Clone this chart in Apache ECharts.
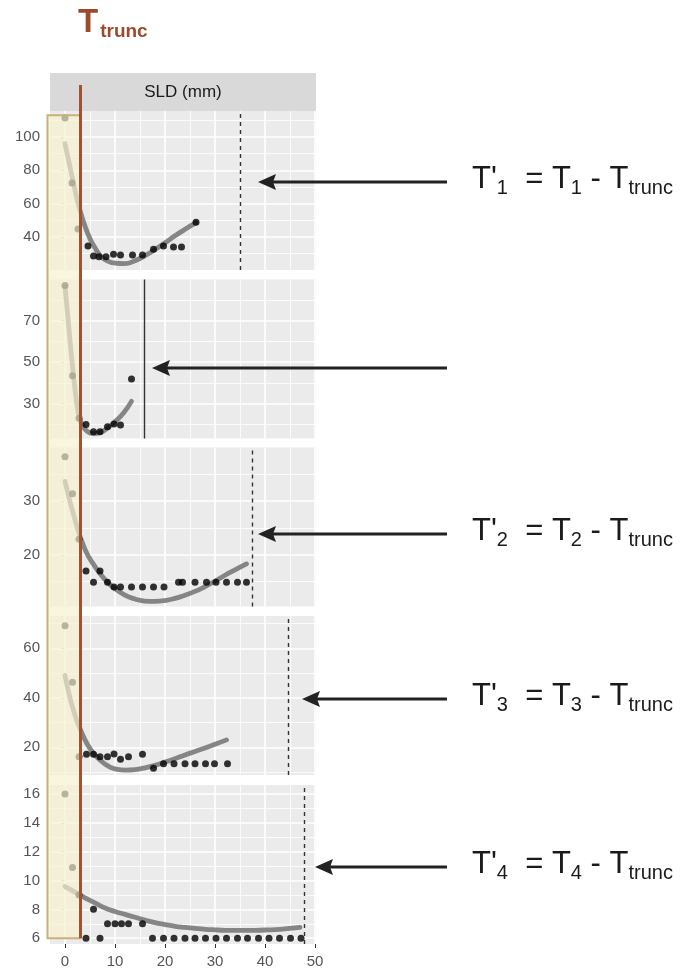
<!DOCTYPE html>
<html><head><meta charset="utf-8">
<script src="https://cdn.jsdelivr.net/npm/echarts@6/dist/echarts.min.js"></script>
<style>html,body{margin:0;padding:0;background:#fff}#c{width:681px;height:970px}</style>
</head><body><div id="c"></div>
<script>
// ---------- data ----------
const xTicks = [0, 10, 20, 30, 40, 50];
const xMinor = [5, 15, 25, 35, 45];
const xRange = [-3, 50.2];
const yRanges = [[20.2, 115.6], [13.2, 89.8], [10.4, 39.9], [8.8, 73.05], [5.6, 16.62]];
const yTicks = [[40, 60, 80, 100], [30, 50, 70], [20, 30], [20, 40, 60], [6, 8, 10, 12, 14, 16]];
const yMinor = [[30, 50, 70, 90, 110], [20, 40, 60, 80], [15, 25, 35], [10, 30, 50, 70], [7, 9, 11, 13, 15]];

const pts1X = [0, 1.4, 2.6, 4.6, 5.7, 6.8, 8.2, 9.7, 11.1, 13.5, 15.5, 17.7, 19.7, 21.7, 23.3, 26.2];
const pts1Y = [111.4, 72.4, 44.8, 34.6, 28.6, 28.2, 28.2, 29.6, 29.2, 29.2, 29.2, 32.6, 34.6, 34, 34, 48.8];
const fit1X = [0, 1, 2, 3, 4, 5, 6, 7, 8, 10, 12, 14, 16, 18, 20, 22, 24, 26.2];
const fit1Y = [96, 82, 68, 56, 46.5, 39, 33.5, 29, 26.5, 24.3, 24, 25.8, 28.8, 32.5, 36.5, 40.7, 44.6, 48.6];

const pts2X = [0, 1.5, 2.8, 4.2, 5.7, 7, 8.5, 9.8, 11.1, 13.3];
const pts2Y = [86.9, 43.4, 23, 19.9, 16.4, 16.4, 18.9, 20.2, 19.7, 41.9];
const fit2X = [0, 0.75, 1.5, 2.2, 2.8, 3.5, 4.5, 5.7, 7, 8.5, 10, 11.7, 13.3];
const fit2Y = [86.4, 67, 48, 33, 24, 19.5, 16.6, 15.6, 16.1, 18.2, 21.3, 25.5, 31.1];

const pts3X = [0, 1.5, 2.8, 4.2, 5.7, 7, 8.5, 9.8, 11.1, 13.3, 15.5, 17.7, 19.8, 22.7, 23.5, 26, 28.3, 30.2, 32.3, 34.5, 36.3];
const pts3Y = [38.2, 31.3, 22.9, 17, 14.9, 17, 14.9, 14, 14, 14, 14, 14, 14, 14.9, 14.9, 14.9, 14.9, 14.9, 14.9, 14.9, 14.9];
const fit3X = [0, 2, 4, 6, 8, 10, 12, 14, 16, 18, 20, 22, 24, 26, 28, 30, 32, 34, 36.3];
const fit3Y = [33.6, 26.5, 21, 17.8, 15.4, 13.7, 12.5, 11.8, 11.4, 11.35, 11.5, 11.9, 12.5, 13.2, 14.1, 15.1, 16.2, 17.2, 18.3];

const pts4X = [0, 1.5, 2.8, 4.3, 5.7, 7, 8.5, 9.8, 11.1, 12.7, 15.5, 17.7, 19.7, 21.8, 24, 26, 28.1, 29.9, 32.5];
const pts4Y = [69.1, 46.3, 16.2, 17.2, 17.2, 16.2, 16.2, 17.3, 15.2, 16.2, 17.2, 11.5, 13.3, 13.3, 13.3, 13.3, 13.3, 13.3, 13.3];
const fit4X = [0, 1, 2, 2.8, 4, 5, 6, 7, 8, 9, 10, 12, 14, 16, 18, 20, 22, 24, 26, 28, 30, 32.3];
const fit4Y = [49, 40, 33, 28.5, 23, 19.5, 16.8, 14.9, 13.2, 12, 11.3, 10.8, 11, 11.7, 12.7, 14, 15.4, 16.9, 18.3, 19.7, 21.2, 23];

const pts5X = [0, 1.5, 2.8, 4.2, 5.7, 7, 8.5, 10, 11.3, 12.7, 15.5, 17.5, 19.7, 21.8, 24, 26, 28.1, 30.2, 32.3, 34.5, 36.5, 38.7, 40.8, 42.9, 45.1, 47.2];
const pts5Y = [16, 10.9, 9, 6, 8, 6, 7, 7, 7, 7, 7, 6, 6, 6, 6, 6, 6, 6, 6, 6, 6, 6, 6, 6, 6, 6];
const fit5X = [0, 2, 4, 6, 8, 10, 12, 14, 16, 18, 20, 22, 24, 26, 28, 30, 32, 34, 36, 38, 40, 42, 44, 47];
const fit5Y = [9.58, 9.2, 8.8, 8.45, 8.1, 7.85, 7.65, 7.45, 7.25, 7.08, 6.95, 6.83, 6.75, 6.68, 6.62, 6.58, 6.55, 6.54, 6.54, 6.55, 6.57, 6.6, 6.65, 6.75];

const refLineX = [35.1, 15.9, 37.5, 44.7, 47.8];
const refLineType = ['dashed', 'solid', 'dashed', 'dashed', 'dashed'];

const truncX = 3.1;       // T_trunc position (mm)
const truncBoxLeft = -3.5;
const truncBoxTop = 113;  // panel 1 value
const truncBoxBottom = 6; // panel 5 value

const stripText = 'SLD (mm)';
const titleMain = 'T', titleSub = 'trunc';
const eqSubs = ['1', null, '2', '3', '4'];

const ptsX = [pts1X, pts2X, pts3X, pts4X, pts5X];
const ptsY = [pts1Y, pts2Y, pts3Y, pts4Y, pts5Y];
const fitX = [fit1X, fit2X, fit3X, fit4X, fit5X];
const fitY = [fit1Y, fit2Y, fit3Y, fit4Y, fit5Y];

// ---------- layout ----------
const L = 50, W = 266, H = 159;
const tops = [111, 279.5, 447.5, 616, 785];
const arrowY = [182, 368, 534, 699, 867];
const arrowTip = [258, 152, 258, 302, 315];
const arrowTail = 447;
const FONT = '"Liberation Sans", Arial, sans-serif';
const zip = (a, b) => a.map((v, i) => [v, b[i]]);

const grids = [], xAxes = [], yAxes = [], series = [];
for (let i = 0; i < 5; i++) {
  const last = i === 4;
  grids.push({ left: L, width: W, top: tops[i], height: H, show: true, backgroundColor: '#ebebeb', borderWidth: 0 });
  xAxes.push({
    type: 'value', gridIndex: i, min: xRange[0], max: xRange[1],
    axisLine: { show: false }, splitLine: { show: false },
    axisTick: { show: last, customValues: xTicks, length: 4, lineStyle: { color: '#333', width: 1 } },
    axisLabel: { show: last, customValues: xTicks, margin: 10, fontSize: 15, color: '#555', fontFamily: FONT }
  });
  yAxes.push({
    type: 'value', gridIndex: i, min: yRanges[i][0], max: yRanges[i][1],
    axisLine: { show: false }, splitLine: { show: false },
    axisTick: { show: true, customValues: yTicks[i], length: 4, lineStyle: { color: '#333', width: 1 } },
    axisLabel: { customValues: yTicks[i], margin: 10, fontSize: 15, color: '#555', fontFamily: FONT }
  });
  const gl = [];
  xMinor.forEach(v => gl.push({ xAxis: v, lineStyle: { color: '#fff', width: 0.8, type: 'solid' } }));
  yMinor[i].forEach(v => gl.push({ yAxis: v, lineStyle: { color: '#fff', width: 0.8, type: 'solid' } }));
  xTicks.forEach(v => gl.push({ xAxis: v, lineStyle: { color: '#fff', width: 1.6, type: 'solid' } }));
  yTicks[i].forEach(v => gl.push({ yAxis: v, lineStyle: { color: '#fff', width: 1.6, type: 'solid' } }));
  series.push({
    type: 'line', xAxisIndex: i, yAxisIndex: i, data: [], z: 1, silent: true,
    markLine: { silent: true, z: 1, symbol: ['none', 'none'], label: { show: false }, animation: false, data: gl }
  });
  series.push({
    type: 'line', xAxisIndex: i, yAxisIndex: i, data: zip(fitX[i], fitY[i]), z: 2,
    smooth: true, showSymbol: false, silent: true,
    lineStyle: { color: '#7a7a7a', width: 4.8, opacity: 0.9, cap: 'round' }
  });
  series.push({
    type: 'scatter', xAxisIndex: i, yAxisIndex: i, data: zip(ptsX[i], ptsY[i]), z: 3,
    symbolSize: 7, itemStyle: { color: '#000' }, silent: true,
    markLine: {
      silent: true, z: 4, symbol: ['none', 'none'], label: { show: false }, animation: false,
      data: [{ xAxis: refLineX[i], lineStyle: { color: '#333', width: 1.4, type: refLineType[i] === 'dashed' ? [4, 4] : 'solid' } }]
    }
  });
}

const chart = echarts.init(document.getElementById('c'), null, { renderer: 'canvas' });
chart.setOption({ animation: false, grid: grids, xAxis: xAxes, yAxis: yAxes, series: series });

// ---------- annotations ----------
const ctx = document.createElement('canvas').getContext('2d');
function tw(t, size, weight) { ctx.font = (weight || 'normal') + ' ' + size + 'px ' + FONT; return ctx.measureText(t).width; }
function pieces(x0, base, list, fill, weight, z) {
  const out = []; let x = x0;
  list.forEach(p => {
    x += (p.dx || 0);
    out.push({ type: 'text', x: x, y: base + (p.dy || 0) - 0.3465 * p.size, z: z, silent: true,
      style: { text: p.t, fontSize: p.size, fontFamily: FONT, fontWeight: weight || 'normal', fill: fill, align: 'left', verticalAlign: 'middle' } });
    x += tw(p.t, p.size, weight);
  });
  return out;
}
const g = [];
// title
g.push(...pieces(78, 34, [{ t: titleMain, size: 33 }, { t: titleSub, size: 19, dy: 4, dx: 2 }], '#9b4a2b', 'bold', 20));
// strip
g.push({ type: 'rect', shape: { x: L, y: 73, width: W, height: 38 }, style: { fill: '#d9d9d9' }, z: 5, silent: true });
g.push({ type: 'text', x: L + W / 2, y: 92, z: 6, silent: true, style: { text: stripText, fontSize: 17, fontFamily: FONT, fill: '#1a1a1a', align: 'center', verticalAlign: 'middle' } });
// truncation box and line
const px = v => chart.convertToPixel({ xAxisIndex: 0 }, v);
const bx0 = px(truncBoxLeft), bx1 = px(truncX);
const by0 = chart.convertToPixel({ yAxisIndex: 0 }, truncBoxTop);
const by1 = chart.convertToPixel({ yAxisIndex: 4 }, truncBoxBottom);
g.push({ type: 'rect', shape: { x: bx0, y: by0, width: bx1 - bx0, height: by1 - by0 }, z: 10, silent: true,
  style: { fill: 'rgba(248,240,205,0.68)', stroke: '#c9b07a', lineWidth: 2 } });
g.push({ type: 'line', shape: { x1: bx1, y1: 85, x2: bx1, y2: by1 }, z: 11, silent: true, style: { stroke: '#a0522d', lineWidth: 3 } });
// arrows and equations
for (let i = 0; i < 5; i++) {
  const y = arrowY[i], tip = arrowTip[i];
  g.push({ type: 'line', shape: { x1: arrowTail, y1: y, x2: tip + 12, y2: y }, z: 12, silent: true, style: { stroke: '#222', lineWidth: 3 } });
  g.push({ type: 'polygon', shape: { points: [[tip, y], [tip + 18, y - 8], [tip + 15, y], [tip + 18, y + 8]] }, z: 12, silent: true, style: { fill: '#222' } });
  if (eqSubs[i]) {
    const s = eqSubs[i];
    g.push(...pieces(472, y + 8, [
      { t: "T'", size: 31 }, { t: s, size: 20, dy: 5 },
      { t: '  = T', size: 31 }, { t: s, size: 20, dy: 5 },
      { t: ' - T', size: 31 }, { t: 'trunc', size: 20, dy: 5 }
    ], '#1a1a1a', 'normal', 12));
  }
}
chart.setOption({ graphic: { elements: g } });
</script></body></html>
